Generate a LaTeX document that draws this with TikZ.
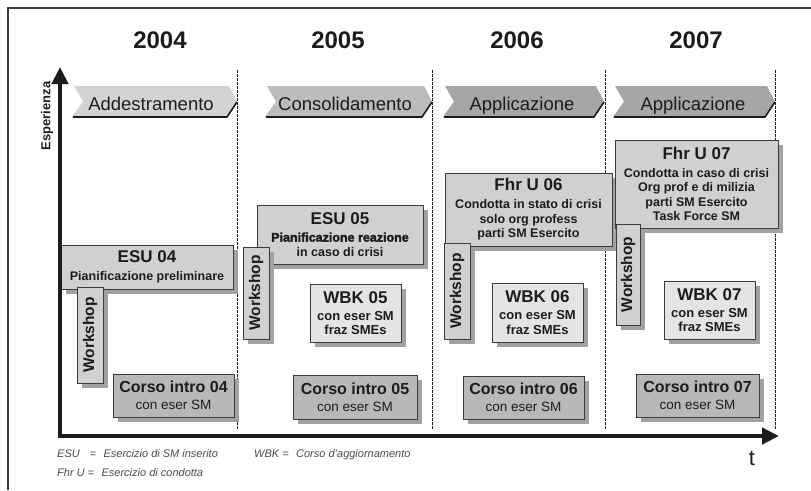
\documentclass[tikz,border=0pt]{standalone}
\usepackage{fontspec}
\setmainfont{Liberation Sans}
\usetikzlibrary{arrows.meta,shadows}
\definecolor{frameC}{HTML}{3C3C3C}
\definecolor{lightF}{HTML}{D0D0D0}
\definecolor{paleF}{HTML}{E4E4E4}
\definecolor{midF}{HTML}{B8B8B8}
\definecolor{shadowC}{HTML}{A2A2A2}
\definecolor{banA}{HTML}{D3D3D3}
\definecolor{banB}{HTML}{BCBCBC}
\definecolor{banC}{HTML}{A6A6A6}
\definecolor{inkC}{HTML}{1C1C1C}
\definecolor{noteC}{HTML}{4A4A4A}
\newcommand\boxtitle[1]{{\fontsize{17}{17}\selectfont\bfseries #1}}
\newcommand\corsotitle[1]{{\fontsize{16}{16}\selectfont\bfseries #1}}
\newcommand\heavytext[1]{{\bfseries\addfontfeature{FakeBold=2.5}#1}}
\begin{document}
\begin{tikzpicture}[x=1pt,y=-1pt,
  box/.style={draw=frameC, line width=0.8pt, inner sep=0pt, align=center, text=inkC,
    drop shadow={shadow xshift=5pt, shadow yshift=-5pt, fill=shadowC, opacity=1}},
  esubox/.style={box, fill=lightF, font=\fontsize{12.5}{14.5}\selectfont\bfseries},
  wbkbox/.style={box, fill=paleF, font=\fontsize{13}{14.5}\selectfont\bfseries},
  corsobox/.style={box, fill=midF, font=\fontsize{13.5}{16}\selectfont},
  wsbox/.style={box, fill=lightF},
  wstext/.style={rotate=90, font=\fontsize{15.5}{15.5}\selectfont\bfseries, text=inkC, inner sep=0pt},
  yearlbl/.style={font=\fontsize{24}{24}\selectfont\bfseries, text=inkC, anchor=base, inner sep=0pt},
  banlbl/.style={font=\fontsize{18.5}{18.5}\selectfont, text=inkC, anchor=base, inner sep=0pt},
  banedge/.style={draw=inkC, line width=1.6pt},
  yeardiv/.style={draw=inkC, line width=0.7pt, dash pattern=on 2.5pt off 1.5pt},
  axisline/.style={draw=inkC, line width=4.5pt, -{Triangle[length=17pt,width=16pt]}},
  notelbl/.style={font=\fontsize{11}{11}\selectfont\itshape, text=noteC, anchor=base west, inner sep=0pt}
]
\useasboundingbox (0,0) rectangle (811,490);
% frame
\draw[frameC, line width=1.5pt] (8,490) -- (8,8) -- (811,8);

% year labels
\node[yearlbl] (y2004) at (160,48) {2004};
\node[yearlbl] (y2005) at (338,48) {2005};
\node[yearlbl] (y2006) at (517,48) {2006};
\node[yearlbl] (y2007) at (696,48) {2007};

% year dividers
\foreach \xx in {237,432,605,775}
  \draw[yeardiv] (\xx,70) -- (\xx,430);

% banners
\foreach \L/\R/\col in {72/237/banA, 265/432/banB, 443/604/banC, 613/775/banC}{
  \fill[\col] (\L+2,86) -- (\R-8,86) -- (\R,101.5) -- (\R-10,117) -- (\L,117) -- (\L+11,101.5) -- cycle;
  \draw[banedge] (\L+1,117) -- (\R-10,117) -- (\R,102);
}
\node[banlbl] (ban1) at (151,110) {Addestramento};
\node[banlbl] (ban2) at (345,110) {Consolidamento};
\node[banlbl] (ban3) at (522,110) {Applicazione};
\node[banlbl] (ban4) at (693,110) {Applicazione};

% 2004
\node[esubox, minimum width=172, minimum height=44] (esu04) at (147,267)
  {\boxtitle{ESU 04}\\[3.5pt]Pianificazione preliminare};
\node[wsbox, minimum width=26, minimum height=96] (ws04) at (90,335) {};
\node[wstext] (ws04t) at (ws04.center) {Workshop};
\node[corsobox, minimum width=121, minimum height=43] (co04) at (173.5,395.5)
  {\corsotitle{Corso intro 04}\\[1pt]con eser SM};

% 2005
\node[esubox, minimum width=166, minimum height=59] (esu05) at (340,234.5)
  {\boxtitle{ESU 05}\\[2.5pt]\heavytext{Pianificazione reazione}\\in caso di crisi};
\node[wsbox, minimum width=26, minimum height=92] (ws05) at (256,293) {};
\node[wstext] (ws05t) at (ws05.center) {Workshop};
\node[wbkbox, minimum width=91, minimum height=58] (wbk05) at (355.5,313)
  {\boxtitle{WBK 05}\\[2.5pt]con eser SM\\fraz SMEs};
\node[corsobox, minimum width=124, minimum height=44] (co05) at (355,397)
  {\corsotitle{Corso intro 05}\\[1pt]con eser SM};

% 2006
\node[esubox, minimum width=167, minimum height=73] (fhr06) at (528.5,209.5)
  {\boxtitle{Fhr U 06}\\[3.5pt]Condotta in stato di crisi\\solo org profess\\parti SM Esercito};
\node[wsbox, minimum width=26, minimum height=96] (ws06) at (457,291) {};
\node[wstext] (ws06t) at (ws06.center) {Workshop};
\node[wbkbox, minimum width=91, minimum height=59] (wbk06) at (537.5,312.5)
  {\boxtitle{WBK 06}\\[2.5pt]con eser SM\\fraz SMEs};
\node[corsobox, minimum width=121, minimum height=43] (co06) at (523.5,397.5)
  {\corsotitle{Corso intro 06}\\[1pt]con eser SM};

% 2007
\node[esubox, minimum width=163, minimum height=88] (fhr07) at (696.5,184)
  {\boxtitle{Fhr U 07}\\[3.5pt]Condotta in caso di crisi\\Org prof e di milizia\\parti SM Esercito\\Task Force SM};
\node[wsbox, minimum width=24, minimum height=101] (ws07) at (628,274.5) {};
\node[wstext] (ws07t) at (ws07.center) {Workshop};
\node[wbkbox, minimum width=91, minimum height=58] (wbk07) at (709.5,310)
  {\boxtitle{WBK 07}\\[2.5pt]con eser SM\\fraz SMEs};
\node[corsobox, minimum width=123, minimum height=43] (co07) at (697.5,395.5)
  {\corsotitle{Corso intro 07}\\[1pt]con eser SM};

% axes
\coordinate (origin) at (60,436);
\coordinate (ytip) at (60,67);
\coordinate (xtip) at (779,436);
\draw[axisline] (60,438.25) -- (ytip);
\draw[axisline] (57.75,436) -- (xtip);
\node[rotate=90, font=\fontsize{13}{13}\selectfont\bfseries, text=inkC, inner sep=0pt] (esp) at (47,116) {Esperienza};
\node[font=\fontsize{22}{22}\selectfont, text=inkC, anchor=base, inner sep=0pt] (tlbl) at (752,465) {t};

% notes
\node[notelbl] (n1) at (57,457) {ESU\hspace{0.9em}=\hspace{0.4em} Esercizio di SM inserito};
\node[notelbl] (n2) at (57,476) {Fhr U =\hspace{0.4em} Esercizio di condotta};
\node[notelbl] (n3) at (254,457) {WBK =\hspace{0.4em} Corso d'aggiornamento};
\end{tikzpicture}
\end{document}
